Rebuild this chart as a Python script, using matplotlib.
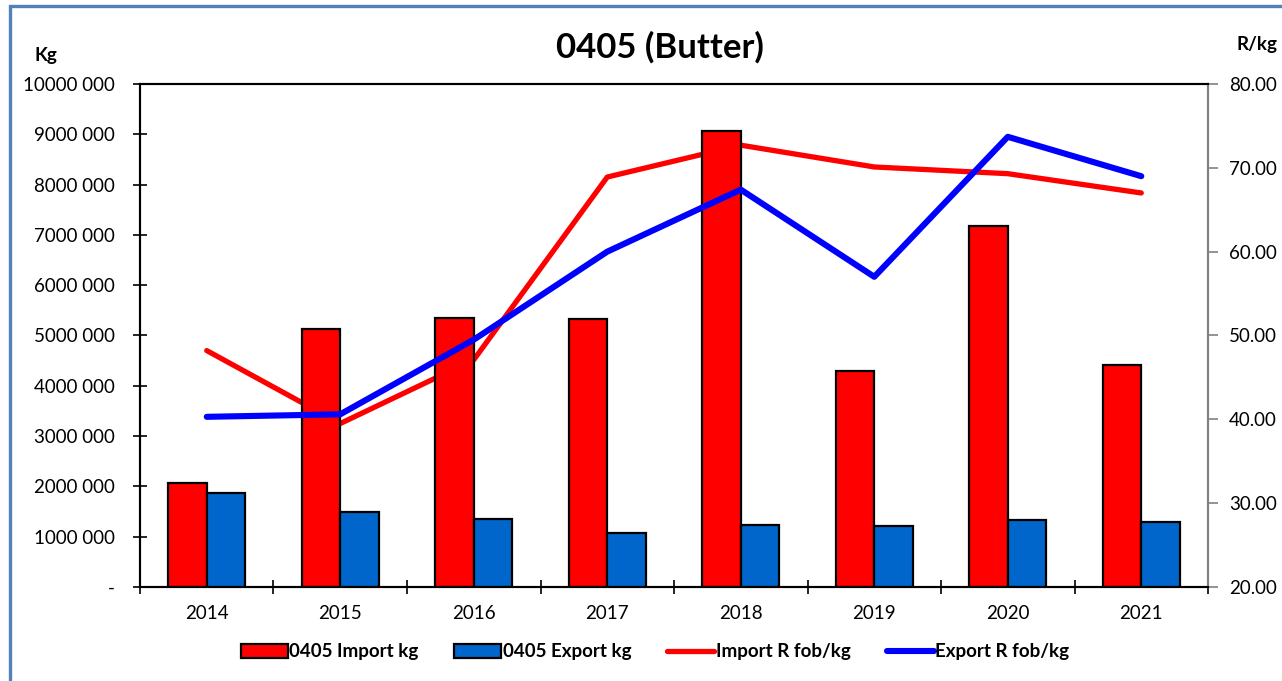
import matplotlib.pyplot as plt
from matplotlib.patches import Rectangle, Patch
from matplotlib.lines import Line2D
from matplotlib.ticker import FixedLocator, FuncFormatter

plt.rcParams['font.family'] = ['Lato', 'DejaVu Sans']

# data
years = ['2014', '2015', '2016', '2017', '2018', '2019', '2020', '2021']
import_kg = [2070000, 5130000, 5350000, 5330000, 9070000, 4290000, 7180000, 4410000]
export_kg = [1870000, 1490000, 1350000, 1070000, 1230000, 1210000, 1330000, 1290000]
import_price = [48.2, 39.5, 47.1, 68.9, 72.7, 70.1, 69.3, 67.0]
export_price = [40.3, 40.6, 49.5, 60.0, 67.4, 57.0, 73.7, 69.0]

fig = plt.figure(figsize=(12.82, 6.81), dpi=100)
ax = fig.add_axes([0.1092, 0.138, 0.8331, 0.7387])
ax2 = ax.twinx()

x = list(range(len(years)))
w = 0.29
ax.bar([i - w / 2 for i in x], import_kg, width=w, color='#FF0000',
       edgecolor='black', linewidth=1.6, zorder=3)
ax.bar([i + w / 2 for i in x], export_kg, width=w, color='#0066CC',
       edgecolor='black', linewidth=1.6, zorder=3)

ax.set_xlim(-0.5, 7.5)
ax.set_ylim(0, 10000000)
ax2.set_ylim(20, 80)

# import price line sits behind the bars, export line in front
ax.plot(x, import_price, color='#FF0000', lw=3.8, solid_capstyle='round',
        solid_joinstyle='round', transform=ax2.transData, zorder=1)
ax2.plot(x, export_price, color='#0000FF', lw=4.4, solid_capstyle='round',
         solid_joinstyle='round', zorder=3)

# left axis
ax.yaxis.set_major_locator(FixedLocator(range(0, 10000001, 1000000)))
ax.yaxis.set_major_formatter(FuncFormatter(
    lambda v, p: '-' if v == 0 else f'{int(v) // 1000} 000'))
ax.tick_params(axis='y', direction='inout', length=10, width=1.2,
               labelsize=13.5, pad=13)

# x axis: ticks between categories, labels at centres
ax.xaxis.set_major_locator(FixedLocator([i - 0.5 for i in range(9)]))
ax.xaxis.set_major_formatter(FuncFormatter(lambda v, p: ''))
ax.xaxis.set_minor_locator(FixedLocator(x))
ax.set_xticklabels(years, minor=True)
ax.tick_params(axis='x', which='major', direction='inout', length=10, width=1.2)
ax.tick_params(axis='x', which='minor', length=0, labelsize=13.5, pad=13)

# right axis
ax2.yaxis.set_major_locator(FixedLocator(range(20, 81, 10)))
ax2.yaxis.set_major_formatter(FuncFormatter(lambda v, p: f'{v:.2f}'))
ax2.tick_params(axis='y', direction='out', length=7, width=1.2, color='#808080',
                labelsize=13.5, pad=8)

for a in (ax, ax2):
    a.spines['left'].set_color('black')
    a.spines['bottom'].set_color('black')
    a.spines['top'].set_color('black')
    a.spines['right'].set_color('#808080')
    for s in a.spines.values():
        s.set_linewidth(1.5)

fig.text(0.515, 0.93, '0405 (Butter)', ha='center', va='center',
         fontsize=25, fontweight='bold')
fig.text(0.036, 0.919, 'Kg', ha='center', va='center', fontsize=13.5, fontweight='bold')
fig.text(0.9805, 0.935, 'R/kg', ha='center', va='center', fontsize=13.5, fontweight='bold')

handles = [
    Patch(facecolor='#FF0000', edgecolor='black', linewidth=1.6),
    Patch(facecolor='#0066CC', edgecolor='black', linewidth=1.6),
    Line2D([], [], color='#FF0000', lw=3.8, solid_capstyle='round'),
    Line2D([], [], color='#0000FF', lw=4.4, solid_capstyle='round'),
]
labels = ['0405 Import kg', '0405 Export kg', 'Import R fob/kg', 'Export R fob/kg']
fig.legend(handles, labels, loc='center', bbox_to_anchor=(0.511, 0.043), ncol=4,
           frameon=False, prop={'weight': 'bold', 'size': 13.5}, handlelength=2.5,
           handleheight=0.75, handletextpad=0.1, columnspacing=1.9)

# chart frame
fig.patches.append(Rectangle((10 / 1282, -0.1), 1.2, 1.1 - 6.5 / 681,
                             transform=fig.transFigure, fill=False,
                             edgecolor='#4F81BD', linewidth=2.4))

plt.savefig('out.png', dpi=100)
